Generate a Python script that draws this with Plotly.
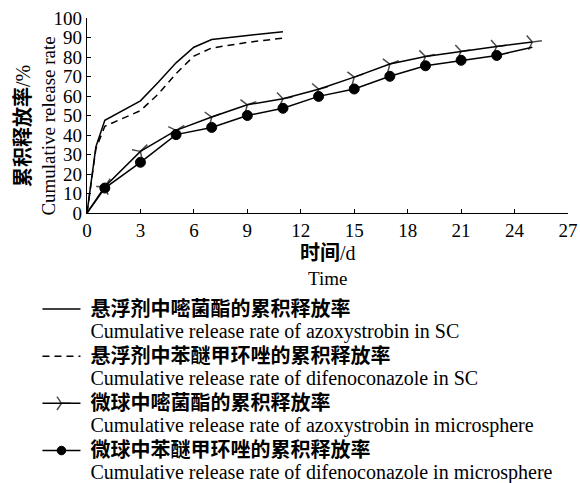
import plotly.graph_objects as go

# ---- data ----
t_sc = [0, 0.5, 1, 2, 3, 4, 5, 6, 7, 9, 11]
azo_sc = [0, 34, 47.5, 52.5, 57.5, 67, 77, 85, 89, 91, 93]
dif_sc = [0, 33, 44.5, 48.5, 52.5, 61, 71.5, 80.5, 84.6, 87.5, 89.7]

t_ms = [0, 1, 3, 5, 7, 9, 11, 13, 15, 17, 19, 21, 23, 25]
azo_ms = [0, 13.5, 31.6, 42.4, 49.2, 55.5, 58.6, 63.5, 69.7, 76.4, 80.3, 82.9, 85.4, 87.7]
dif_ms = [0, 12.8, 26, 40.2, 43.9, 50, 53.7, 59.8, 63.6, 70.1, 75.5, 78.3, 80.8, 85]

x_ticks = [0, 3, 6, 9, 12, 15, 18, 21, 24, 27]
y_ticks = [0, 10, 20, 30, 40, 50, 60, 70, 80, 90, 100]

names_cn = ["悬浮剂中嘧菌酯的累积释放率", "悬浮剂中苯醚甲环唑的累积释放率",
            "微球中嘧菌酯的累积释放率", "微球中苯醚甲环唑的累积释放率"]
names_en = ["Cumulative release rate of azoxystrobin in SC",
            "Cumulative release rate of difenoconazole in SC",
            "Cumulative release rate of azoxystrobin in microsphere",
            "Cumulative release rate of difenoconazole in microsphere"]

FONT = "Liberation Serif, Times New Roman, Noto Sans CJK SC, serif"
NB = "\u00a0"


def lname(i):
    return ("<span style='font-size:20px'>" + NB + "<b>" + names_cn[i] + "</b></span><br>"
            "<span style='font-size:20px'>" + NB + names_en[i] + "</span>")


fig = go.Figure()
fig.add_trace(go.Scatter(x=t_sc, y=azo_sc, mode="lines", name=lname(0),
                         line=dict(color="black", width=1.5)))
fig.add_trace(go.Scatter(x=t_sc, y=dif_sc, mode="lines", name=lname(1),
                         line=dict(color="black", width=1.5, dash="7px,5px")))
arrow_sizes = [0] + [12] * (len(t_ms) - 1)
fig.add_trace(go.Scatter(x=t_ms, y=azo_ms, mode="lines+markers", name=lname(2),
                         line=dict(color="black", width=1.5),
                         marker=dict(symbol="y-up", size=arrow_sizes, angleref="previous",
                                     color="black", line=dict(color="black", width=1.5))))
dot_sizes = [0] + [10] * (len(t_ms) - 2) + [0]
fig.add_trace(go.Scatter(x=t_ms, y=dif_ms, mode="lines+markers", name=lname(3),
                         line=dict(color="black", width=1.5),
                         marker=dict(symbol="circle", size=dot_sizes, color="black", opacity=1,
                                     line=dict(color="black", width=1))))

axis_common = dict(showline=True, linecolor="black", linewidth=1.2, ticks="inside",
                   ticklen=4, tickwidth=1, tickcolor="black", showgrid=False, zeroline=False,
                   tickfont=dict(family=FONT, size=19, color="black"))
fig.update_xaxes(range=[0, 27], tickvals=x_ticks, ticktext=[str(v) for v in x_ticks], **axis_common)
fig.update_yaxes(range=[0, 100], tickvals=y_ticks, ticktext=[str(v) for v in y_ticks], **axis_common)

fig.add_annotation(xref="paper", yref="paper", x=-0.1065, y=0.447, xanchor="center", yanchor="middle",
                   textangle=-90, showarrow=False,
                   text="<span style='font-size:20px'><b>累积释放率</b>/%</span><br>Cumulative release rate",
                   font=dict(family=FONT, size=19, color="black"))
fig.add_annotation(xref="paper", yref="paper", x=0.5, y=-0.268, xanchor="center", yanchor="middle",
                   showarrow=False,
                   text="<span style='font-size:20px'><b>时间</b>/d</span><br>Time",
                   font=dict(family=FONT, size=19, color="black"))

fig.update_layout(
    width=580, height=483,
    margin=dict(l=87, r=12, t=18, b=270, autoexpand=False),
    paper_bgcolor="white", plot_bgcolor="white",
    showlegend=True,
    legend=dict(x=-0.103, y=-0.402, xanchor="left", yanchor="top", valign="top",
                itemwidth=38, bgcolor="rgba(0,0,0,0)", borderwidth=0,
                font=dict(family=FONT, size=17, color="black"), tracegroupgap=0),
)

fig.write_html("out.html", config={"displayModeBar": False},
               post_script="document.body.style.margin='0px';document.body.style.overflow='hidden';")
